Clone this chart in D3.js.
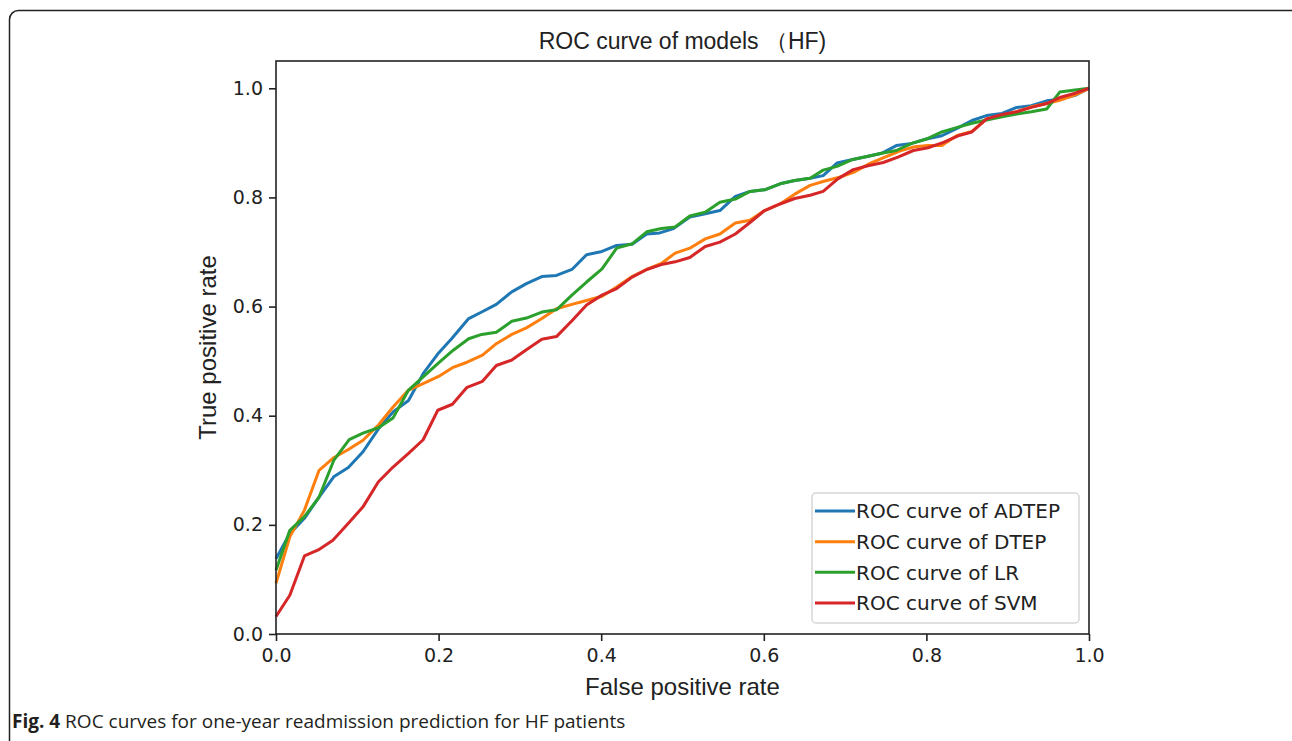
<!DOCTYPE html>
<html>
<head>
<meta charset="utf-8">
<script src="https://cdn.jsdelivr.net/npm/d3@7"></script>
<style>
  html, body { margin: 0; padding: 0; background: #fff; }
  svg { display: block; }
</style>
</head>
<body>
<svg width="1292" height="741"></svg>
<script>
// データ
var models = ["ROC curve of ADTEP", "ROC curve of DTEP", "ROC curve of LR", "ROC curve of SVM"];
var colors = ["#1f77b4", "#ff7f0e", "#2ca02c", "#d62728"];
var xTicks = [0.0, 0.2, 0.4, 0.6, 0.8, 1.0];
var yTicks = [0.0, 0.2, 0.4, 0.6, 0.8, 1.0];

var fprADTEP = [0, .017, .035, .053, .071, .089, .107, .126, .144, .163, .181, .200, .216, .237, .253, .271, .290, .308, .327, .345, .364, .382, .401, .419, .438, .456, .472, .489, .509, .528, .546, .565, .583, .601, .620, .638, .657, .673, .690, .708, .727, .745, .763, .782, .800, .819, .837, .856, .874, .893, .911, .929, .948, .964, .983, 1.0];
var tprADTEP = [.138, .184, .212, .251, .288, .305, .334, .376, .407, .428, .477, .515, .541, .578, .590, .604, .627, .642, .655, .657, .668, .695, .701, .712, .714, .733, .735, .743, .764, .770, .776, .802, .811, .814, .825, .831, .835, .840, .863, .869, .875, .881, .895, .899, .907, .913, .926, .941, .950, .954, .965, .968, .977, .980, .987, 1.0];

var fprDTEP = [0, .017, .035, .053, .071, .089, .107, .126, .144, .163, .181, .200, .217, .235, .254, .271, .290, .308, .327, .345, .364, .382, .401, .419, .438, .456, .474, .491, .509, .528, .546, .565, .583, .601, .620, .638, .657, .675, .693, .712, .730, .749, .767, .786, .802, .819, .837, .856, .874, .893, .911, .929, .948, .964, .983, 1.0];
var tprDTEP = [.093, .178, .227, .300, .323, .338, .355, .383, .416, .447, .459, .472, .488, .498, .511, .532, .549, .561, .578, .596, .604, .611, .619, .636, .655, .668, .679, .698, .707, .724, .733, .753, .758, .776, .788, .806, .822, .830, .837, .847, .862, .874, .885, .893, .895, .895, .913, .921, .944, .950, .957, .966, .972, .978, .988, 1.0];

var fprLR = [0, .017, .035, .053, .071, .090, .107, .126, .144, .163, .181, .200, .218, .237, .253, .271, .290, .308, .327, .345, .364, .382, .401, .419, .438, .456, .474, .491, .509, .528, .546, .565, .583, .601, .620, .638, .657, .673, .690, .708, .727, .745, .763, .782, .800, .819, .837, .856, .874, .893, .911, .929, .948, .964, .983, 1.0];
var tprLR = [.117, .190, .215, .251, .318, .356, .368, .378, .396, .447, .471, .497, .520, .541, .549, .553, .573, .579, .590, .594, .621, .645, .669, .707, .715, .737, .743, .746, .766, .773, .791, .797, .811, .814, .825, .831, .835, .850, .857, .869, .875, .881, .886, .899, .907, .920, .928, .936, .942, .948, .953, .957, .962, .993, .997, 1.0];

var fprSVM = [0, .017, .035, .052, .070, .089, .107, .126, .144, .163, .181, .199, .217, .235, .254, .271, .290, .308, .327, .345, .364, .382, .401, .419, .438, .456, .474, .491, .509, .528, .546, .565, .583, .601, .620, .638, .657, .673, .691, .710, .728, .747, .765, .784, .802, .821, .839, .856, .874, .893, .911, .929, .948, .964, .983, 1.0];
var tprSVM = [.032, .071, .143, .154, .172, .203, .233, .279, .306, .331, .356, .410, .421, .452, .463, .492, .502, .521, .540, .545, .574, .603, .621, .633, .654, .668, .677, .682, .690, .710, .718, .733, .754, .776, .788, .798, .804, .811, .834, .851, .858, .864, .874, .886, .891, .901, .913, .920, .944, .952, .957, .965, .972, .983, .991, 1.0];

var fprs = [fprADTEP, fprDTEP, fprLR, fprSVM];
var tprs = [tprADTEP, tprDTEP, tprLR, tprSVM];

var titleText = "ROC curve of models （HF)";
var xLabel = "False positive rate";
var yLabel = "True positive rate";

var svg = d3.select("svg");

// 外枠（角丸、右下は画面外）
svg.append("rect")
    .attr("x", 9.5).attr("y", 10.5)
    .attr("width", 1290).attr("height", 800)
    .attr("rx", 9).attr("ry", 9)
    .attr("fill", "none")
    .attr("stroke", "#222")
    .attr("stroke-width", 1.5);

var x = d3.scaleLinear().domain([0, 1]).range([276, 1089]);
var y = d3.scaleLinear().domain([0, 1.05]).range([634, 61]);

var tickFont = "DejaVu Sans, sans-serif";
var labelFont = "Liberation Sans, Arial, sans-serif";

// 軸
var gx = svg.append("g")
    .attr("transform", "translate(0," + y(0) + ")")
    .call(d3.axisBottom(x).tickValues(xTicks).tickFormat(d3.format(".1f")).tickSize(7).tickPadding(8).tickSizeOuter(0));
var gy = svg.append("g")
    .attr("transform", "translate(" + x(0) + ",0)")
    .call(d3.axisLeft(y).tickValues(yTicks).tickFormat(d3.format(".1f")).tickSize(7).tickPadding(6).tickSizeOuter(0));

[gx, gy].forEach(function(g) {
  g.select(".domain").remove();
  g.selectAll(".tick line").attr("stroke", "#222").attr("stroke-width", 1.6);
  g.selectAll(".tick text")
      .attr("fill", "#222")
      .style("font-family", tickFont)
      .style("font-size", "19px");
});

// 曲線
var line = d3.line()
    .x(function(d) { return x(d[0]); })
    .y(function(d) { return y(d[1]); });

models.forEach(function(m, i) {
  var pts = d3.zip(fprs[i], tprs[i]);
  svg.append("path")
      .datum(pts)
      .attr("fill", "none")
      .attr("stroke", colors[i])
      .attr("stroke-width", 3)
      .attr("stroke-linejoin", "round")
      .attr("d", line);
});

// 枠線（spines）
svg.append("rect")
    .attr("x", x(0)).attr("y", y(1.05))
    .attr("width", x(1) - x(0)).attr("height", y(0) - y(1.05))
    .attr("fill", "none")
    .attr("stroke", "#222")
    .attr("stroke-width", 1.6);

// タイトル・軸ラベル
svg.append("text")
    .attr("x", (x(0) + x(1)) / 2).attr("y", 49)
    .attr("text-anchor", "middle")
    .style("font-family", labelFont)
    .style("font-size", "23px")
    .attr("fill", "#222")
    .text(titleText);

svg.append("text")
    .attr("x", (x(0) + x(1)) / 2).attr("y", 695)
    .attr("text-anchor", "middle")
    .style("font-family", labelFont)
    .style("font-size", "24px")
    .attr("fill", "#222")
    .text(xLabel);

svg.append("text")
    .attr("transform", "translate(216," + ((y(0) + y(1.05)) / 2) + ") rotate(-90)")
    .attr("text-anchor", "middle")
    .style("font-family", labelFont)
    .style("font-size", "24px")
    .attr("fill", "#222")
    .text(yLabel);

// 凡例
var legend = svg.append("g").attr("transform", "translate(812,493)");
legend.append("rect")
    .attr("width", 267).attr("height", 130)
    .attr("rx", 4).attr("ry", 4)
    .attr("fill", "#fff")
    .attr("stroke", "#d6d6d6")
    .attr("stroke-width", 1.5);

var rowY = d3.scalePoint().domain(models).range([18, 110]);
models.forEach(function(m, i) {
  var row = legend.append("g").attr("transform", "translate(0," + rowY(m) + ")");
  row.append("line")
      .attr("x1", 3).attr("x2", 43)
      .attr("stroke", colors[i]).attr("stroke-width", 3);
  row.append("text")
      .attr("x", 44).attr("dy", "0.36em")
      .style("font-family", tickFont)
      .style("font-size", "20px")
      .attr("fill", "#222")
      .text(m);
});

// キャプション
var cap = svg.append("text")
    .attr("x", 12).attr("y", 728)
    .style("font-family", "Open Sans, sans-serif")
    .style("font-size", "19px")
    .attr("fill", "#231f20");
cap.append("tspan").style("font-weight", "bold").text("Fig. 4");
cap.append("tspan").text(" ROC curves for one-year readmission prediction for HF patients");
</script>
</body>
</html>
